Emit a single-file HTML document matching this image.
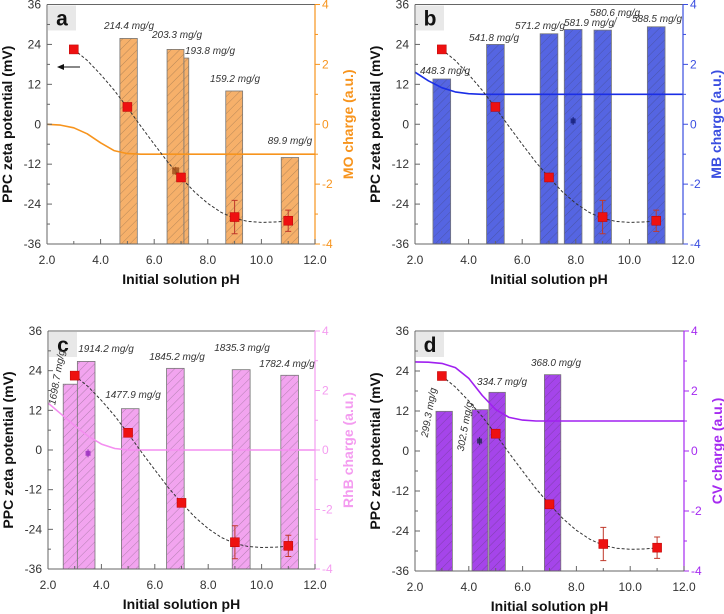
<!DOCTYPE html>
<html><head><meta charset="utf-8"><style>
html,body{margin:0;padding:0;background:#fff;}
svg{display:block;font-family:"Liberation Sans",sans-serif;}
</style></head><body>
<svg id="fig" width="724" height="614" viewBox="0 0 724 614"></svg>
<script>
// ---- shared data ----
const zetaPH = [3, 5, 7, 9, 11];
const zetaVals = [22.5, 5.2, -16, -27.9, -29];
const zetaErr = [0, 0, 0, 5, 3.2];
const fitPH = [3, 3.5, 4, 4.5, 5, 5.5, 6, 6.5, 7, 7.5, 8, 8.5, 9, 9.5, 10, 10.5, 11];
const fitVals = [22.5, 19.2, 15, 10.3, 5, -0.6, -6, -11.3, -16, -20.3, -23.8, -26.5, -28.3, -29.2, -29.5, -29.4, -29.1];
const chargePH = [2, 2.5, 3, 3.5, 4, 4.5, 5, 5.5, 6, 6.5, 7, 8, 9, 10, 11, 12];
const yTicks = [36, 24, 12, 0, -12, -24, -36];
const y2Ticks = [4, 2, 0, -2, -4];
const xTicks = [2, 4, 6, 8, 10, 12];
const xTickLabels = ["2.0", "4.0", "6.0", "8.0", "10.0", "12.0"];

// panel a (MO)
const barsA_lo = [4.72, 6.48, 7.11, 8.67, 10.74];
const barsA_hi = [5.37, 7.11, 7.29, 9.30, 11.39];
const barsA_val = [25.8, 22.5, 19.9, 10, -10];
const labelsA = ["214.4 mg/g", "203.3 mg/g", "193.8 mg/g", "159.2 mg/g", "89.9 mg/g"];
const chargeA = [0, -0.03, -0.12, -0.32, -0.62, -0.88, -0.98, -1, -1, -1, -1, -1, -1, -1, -1, -1];
// panel b (MB)
const barsB_lo = [2.67, 4.67, 6.67, 7.57, 8.68, 10.67];
const barsB_hi = [3.33, 5.33, 7.33, 8.23, 9.33, 11.33];
const barsB_val = [13.6, 24.0, 27.2, 28.5, 28.3, 29.3];
const labelsB = ["448.3 mg/g", "541.8 mg/g", "571.2 mg/g", "581.9 mg/g", "580.6 mg/g", "588.5 mg/g"];
const chargeB = [1.74, 1.45, 1.22, 1.08, 1.02, 1.0, 1, 1, 1, 1, 1, 1, 1, 1, 1, 1];
// panel c (RhB)
const barsC_lo = [2.57, 3.10, 4.75, 6.44, 8.90, 10.72];
const barsC_hi = [3.10, 3.76, 5.41, 7.10, 9.57, 11.38];
const barsC_val = [19.9, 26.8, 12.5, 24.7, 24.3, 22.6];
const labelsC = ["1698.7 mg/g", "1914.2 mg/g", "1477.9 mg/g", "1845.2 mg/g", "1835.3 mg/g", "1782.4 mg/g"];
const chargeC = [1.58, 1.2, 0.82, 0.47, 0.2, 0.05, 0, 0, 0, 0, 0, 0, 0, 0, 0, 0];
// panel d (CV)
const barsD_lo = [2.78, 4.12, 4.75, 6.81];
const barsD_hi = [3.39, 4.71, 5.36, 7.42];
const barsD_val = [11.9, 12.4, 17.6, 22.9];
const labelsD = ["299.3 mg/g", "302.5 mg/g", "334.7 mg/g", "368.0 mg/g"];
const chargeD = [2.97, 2.96, 2.92, 2.78, 2.42, 1.85, 1.38, 1.12, 1.03, 1.0, 1, 1, 1, 1, 1, 1];

const NS = "http://www.w3.org/2000/svg";
const svg = document.getElementById('fig');
function mk(tag, attrs, parent) {
  const e = document.createElementNS(NS, tag);
  for (const k in attrs) e.setAttribute(k, attrs[k]);
  (parent || svg).appendChild(e);
  return e;
}

function panel(cfg) {
  const g = mk('g', {});
  
  
  const L = cfg.L, R = cfg.R, T = cfg.T, B = cfg.B;
  const xs = p => L + (p - 2) / 10 * (R - L);
  const ys = z => T + (36 - z) / 72 * (B - T);
  const y2 = c => T + (4 - c) / 8 * (B - T);
  const defs = mk('defs', {}, g);
  const pat = mk('pattern', {id: 'h' + cfg.letter, width: 6, height: 6, patternUnits: 'userSpaceOnUse', patternTransform: 'rotate(45)'}, defs);
  mk('rect', {x: 0, y: 0, width: 6, height: 6, fill: cfg.fill}, pat);
  mk('line', {x1: 0, y1: 0, x2: 0, y2: 6, stroke: '#333', 'stroke-width': 0.6, 'stroke-opacity': 0.55}, pat);
  mk('rect', {x: L + 1, y: T + 1, width: 28, height: 25, fill: '#e8e8e8'}, g);
  const lt = mk('text', {x: L + 15, y: T + 21, 'text-anchor': 'middle', 'font-size': 21, 'font-weight': 'bold', fill: '#111'}, g);
  lt.textContent = cfg.letter;
  
  
  cfg.lo.forEach((lo, i) => {
    const r = mk('rect', {x: xs(lo), y: ys(cfg.val[i]), width: xs(cfg.hi[i]) - xs(lo), height: B - ys(cfg.val[i]), fill: 'url(#h' + cfg.letter + ')', stroke: '#777', 'stroke-width': 0.8}, g);
    
    
  });
  cfg.labels.forEach((s, i) => {
    const p = cfg.lpos[i];
    const t = mk('text', {x: p[0], y: p[1], 'text-anchor': 'middle', 'font-size': 10, 'font-style': 'italic', fill: '#333'}, g);
    if (p[2]) t.setAttribute('transform', 'rotate(' + p[2] + ' ' + p[0] + ' ' + p[1] + ')');
    t.textContent = s;
    
    
  });
  let d = '';
  chargePH.forEach((p, i) => { d += (i ? 'L' : 'M') + xs(p).toFixed(1) + ',' + y2(cfg.charge[i]).toFixed(1); });
  const cl = mk('path', {d: d, fill: 'none', stroke: cfg.line, 'stroke-width': 1.6, 'stroke-linejoin': 'round'}, g);
  
  
  d = '';
  fitPH.forEach((p, i) => { d += (i ? 'L' : 'M') + xs(p).toFixed(1) + ',' + ys(fitVals[i]).toFixed(1); });
  const fl = mk('path', {d: d, fill: 'none', stroke: '#333', 'stroke-width': 1, 'stroke-dasharray': '3,2'}, g);
  
  
  if (cfg.mark) {
    const m = cfg.mark;
    mk('line', {x1: xs(m[0]), y1: ys(m[1]) - 4, x2: xs(m[0]), y2: ys(m[1]) + 4, stroke: m[2], 'stroke-width': 1}, g);
    const mr = mk('rect', {x: xs(m[0]) - m[3] / 2, y: ys(m[1]) - m[3] / 2, width: m[3], height: m[3], fill: m[2], 'fill-opacity': 0.85}, g);
    
    
  }
  zetaPH.forEach((p, i) => {
    const cx = xs(p), cy = ys(zetaVals[i]);
    if (zetaErr[i]) {
      const e1 = ys(zetaVals[i] + zetaErr[i]), e2 = ys(zetaVals[i] - zetaErr[i]);
      mk('path', {d: `M${cx},${e1}L${cx},${e2}M${cx - 3},${e1}L${cx + 3},${e1}M${cx - 3},${e2}L${cx + 3},${e2}`, stroke: '#c0392b', 'stroke-width': 1, fill: 'none'}, g);
    }
    const r = mk('rect', {x: cx - 4.5, y: cy - 4.5, width: 9, height: 9, fill: '#ee1111', stroke: '#b00', 'stroke-width': 0.5}, g);
    
    
  });
  if (cfg.arrow) {
    mk('line', {x1: 80, y1: 67, x2: 62, y2: 67, stroke: '#111', 'stroke-width': 1}, g);
    mk('path', {d: 'M57,67L64,64L64,70Z', fill: '#111'}, g);
  }
  mk('line', {x1: L, y1: T, x2: R, y2: T, stroke: '#666', 'stroke-width': 1}, g);
  mk('line', {x1: L, y1: T, x2: L, y2: B, stroke: '#666', 'stroke-width': 1}, g);
  mk('line', {x1: L, y1: B, x2: R, y2: B, stroke: '#666', 'stroke-width': 1}, g);
  mk('line', {x1: R, y1: T, x2: R, y2: B, stroke: cfg.axis, 'stroke-width': 1.2}, g);
  for (let z = -36; z <= 36; z += 6) {
    const y = ys(z), len = (z % 12 === 0) ? 5 : 3;
    mk('line', {x1: L, y1: y, x2: L + len, y2: y, stroke: '#666'}, g);
  }
  yTicks.forEach(z => {
    const t = mk('text', {x: L - 6, y: ys(z) + 4, 'text-anchor': 'end', 'font-size': 12, fill: '#333'}, g);
    t.textContent = z;
  });
  for (let c = -4; c <= 4; c++) {
    const y = y2(c), len = (c % 2 === 0) ? 5 : 3;
    mk('line', {x1: R, y1: y, x2: R + len, y2: y, stroke: cfg.axis}, g);
  }
  y2Ticks.forEach(c => {
    const t = mk('text', {x: R + 7, y: y2(c) + 4, 'font-size': 12, fill: cfg.axis}, g);
    t.textContent = c;
  });
  for (let p = 2; p <= 12; p++) {
    const len = (p % 2 === 0) ? 5 : 3;
    mk('line', {x1: xs(p), y1: B, x2: xs(p), y2: B - len, stroke: '#666'}, g);
  }
  xTicks.forEach((p, i) => {
    const t = mk('text', {x: xs(p), y: B + 20, 'text-anchor': 'middle', 'font-size': 12, fill: '#333'}, g);
    t.textContent = xTickLabels[i];
  });
  const xt = mk('text', {x: (L + R) / 2, y: B + 40, 'text-anchor': 'middle', 'font-size': 14, 'font-weight': 'bold', fill: '#111'}, g);
  xt.textContent = 'Initial solution pH';
  
  
  const ycx = L - 35, ycy = (T + B) / 2;
  const yt = mk('text', {x: ycx, y: ycy, 'text-anchor': 'middle', 'font-size': 14, 'font-weight': 'bold', fill: '#111', transform: `rotate(-90 ${ycx} ${ycy})`}, g);
  yt.textContent = 'PPC zeta potential (mV)';
  
  
  const rcx = R + 38;
  const rt = mk('text', {x: rcx, y: ycy, 'text-anchor': 'middle', 'font-size': 14, 'font-weight': 'bold', fill: cfg.axis, transform: `rotate(-90 ${rcx} ${ycy})`}, g);
  rt.textContent = cfg.rtitle;
  
  
  if (cfg.leader) mk('path', {d: cfg.leader, stroke: '#555', fill: 'none', 'stroke-width': 0.8}, g);
}

panel({letter: 'a', L: 47, R: 315, T: 4.5, B: 244, lo: barsA_lo, hi: barsA_hi, val: barsA_val, labels: labelsA,
  lpos: [[129, 29], [177, 38], [210, 54], [235, 82], [290, 144]],
  charge: chargeA, fill: '#f6b06a', line: '#f7941d', axis: '#f7941d', rtitle: 'MO charge (a.u.)',
  mark: [6.8, -14, '#a0521d', 7], arrow: true});
panel({letter: 'b', L: 415, R: 683, T: 4.5, B: 244, lo: barsB_lo, hi: barsB_hi, val: barsB_val, labels: labelsB,
  lpos: [[445, 74], [494, 41], [540, 29], [589, 26], [615, 16], [657, 22]],
  charge: chargeB, fill: '#5565e2', line: '#1a2ee6', axis: '#3a4ee0', rtitle: 'MB charge (a.u.)',
  mark: [7.9, 1, '#1a237e', 5], leader: 'M617,17L613,27'});
panel({letter: 'c', L: 48, R: 315, T: 331, B: 569, lo: barsC_lo, hi: barsC_hi, val: barsC_val, labels: labelsC,
  lpos: [[60, 378, -80], [106, 352], [133, 398], [177, 360], [242, 351], [287, 367]],
  charge: chargeC, fill: '#f2a4ef', line: '#f48ef0', axis: '#f49cf0', rtitle: 'RhB charge (a.u.)',
  mark: [3.5, -1, '#9b30c0', 5]});
panel({letter: 'd', L: 415, R: 684, T: 331, B: 571, lo: barsD_lo, hi: barsD_hi, val: barsD_val, labels: labelsD,
  lpos: [[432, 413, -80], [468, 427, -80], [502, 385], [556, 366]],
  charge: chargeD, fill: '#a545ea', line: '#a020f0', axis: '#a52af0', rtitle: 'CV charge (a.u.)',
  mark: [4.4, 3, '#2a2a5a', 5]});
</script>
</body></html>
